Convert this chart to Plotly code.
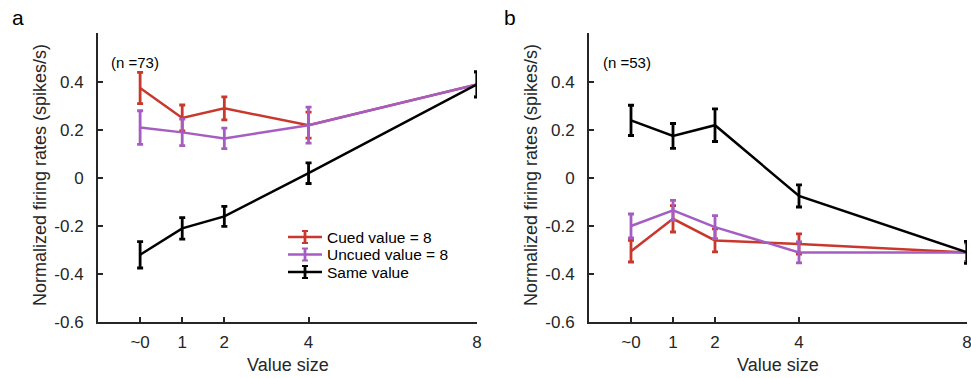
import plotly.graph_objects as go

x_vals = [0, 1, 2, 4, 8]
x_ticklabels = ["~0", "1", "2", "4", "8"]
y_tickvals = [-0.6, -0.4, -0.2, 0, 0.2, 0.4]
y_ticklabels = ["-0.6", "-0.4", "-0.2", "0", "0.2", "0.4"]

series_names = ["Cued value = 8", "Uncued value = 8", "Same value"]

# Panel a (n = 73)
a_cued = [0.375, 0.25, 0.29, 0.22, 0.39]
a_cued_err = [0.065, 0.054, 0.048, 0.054, 0.05]
a_uncued = [0.21, 0.19, 0.165, 0.22, 0.39]
a_uncued_err = [0.07, 0.055, 0.043, 0.075, 0.05]
a_same = [-0.32, -0.21, -0.16, 0.02, 0.39]
a_same_err = [0.055, 0.045, 0.042, 0.043, 0.053]

# Panel b (n = 53)
b_cued = [-0.305, -0.17, -0.26, -0.275, -0.31]
b_cued_err = [0.045, 0.055, 0.048, 0.042, 0.04]
b_uncued = [-0.2, -0.135, -0.205, -0.31, -0.31]
b_uncued_err = [0.05, 0.042, 0.048, 0.044, 0.04]
b_same = [0.24, 0.175, 0.22, -0.075, -0.31]
b_same_err = [0.063, 0.052, 0.068, 0.046, 0.046]

colors = ["#C8382D", "#A55DC2", "#000000"]
FONT = "Liberation Sans, Arial, sans-serif"
AX = "#262626"

W, H = 971, 378
fig = go.Figure()

panels = [
    ("x", "y", [a_cued, a_uncued, a_same], [a_cued_err, a_uncued_err, a_same_err]),
    ("x2", "y2", [b_cued, b_uncued, b_same], [b_cued_err, b_uncued_err, b_same_err]),
]
for xa, ya, ys, errs in panels:
    for name, y, e, c in zip(series_names, ys, errs, colors):
        fig.add_trace(go.Scatter(
            x=x_vals, y=y, name=name, mode="lines",
            line=dict(color=c, width=2.5),
            error_y=dict(type="data", array=e, visible=True, color=c, thickness=2.8, width=3),
            xaxis=xa, yaxis=ya, showlegend=False,
        ))

ydom = [1 - 322 / H, 1 - 33 / H]
xdom_a = [98 / W, 477 / W]
xdom_b = [589 / W, 967 / W]

xaxis_common = dict(
    range=[-1, 8], tickvals=x_vals, ticktext=x_ticklabels,
    showline=True, linecolor=AX, linewidth=2, ticks="inside", ticklen=5,
    tickwidth=1.5, tickcolor=AX, showgrid=False, zeroline=False,
    tickfont=dict(family=FONT, size=17, color=AX), ticklabelstandoff=4,
    ticklabeloverflow="allow",
)
yaxis_common = dict(
    range=[-0.6, 0.604], tickvals=y_tickvals, ticktext=y_ticklabels,
    showline=True, linecolor=AX, linewidth=2, ticks="inside", ticklen=5,
    tickwidth=1.5, tickcolor=AX, showgrid=False, zeroline=False,
    tickfont=dict(family=FONT, size=17, color=AX), ticklabelstandoff=9,
)

fig.update_layout(
    width=W, height=H,
    margin=dict(l=0, r=0, t=0, b=0, autoexpand=False),
    paper_bgcolor="white", plot_bgcolor="white",
    xaxis=dict(domain=xdom_a, anchor="y", **xaxis_common),
    yaxis=dict(domain=ydom, anchor="x", **yaxis_common),
    xaxis2=dict(domain=xdom_b, anchor="y2", **xaxis_common),
    yaxis2=dict(domain=ydom, anchor="x2", **yaxis_common),
    showlegend=False,
)

# Legend (drawn in panel a, in paper coordinates)
leg_rows = [237, 254.5, 272]
for name, c, ry in zip(series_names, colors, leg_rows):
    yy = 1 - ry / H
    fig.add_shape(type="line", xref="paper", yref="paper",
                  x0=288 / W, x1=322 / W, y0=yy, y1=yy, line=dict(color=c, width=2.5))
    fig.add_shape(type="line", xref="paper", yref="paper",
                  x0=305 / W, x1=305 / W, y0=yy - 6 / H, y1=yy + 6 / H, line=dict(color=c, width=2.8))
    for dy in (-6, 6):
        fig.add_shape(type="line", xref="paper", yref="paper",
                      x0=302 / W, x1=308 / W, y0=yy + dy / H, y1=yy + dy / H, line=dict(color=c, width=2))
    fig.add_annotation(xref="paper", yref="paper", x=325 / W, y=yy, xanchor="left", yanchor="middle",
                       text=name, showarrow=False, font=dict(family=FONT, size=15.5, color="#000"))

annotations = [
    dict(text="a", x=18 / W, y=1 - 17 / H, font=dict(size=21)),
    dict(text="b", x=510 / W, y=1 - 17 / H, font=dict(size=21)),
    dict(text="(n =73)", x=135 / W, y=1 - 63 / H, font=dict(size=15)),
    dict(text="(n =53)", x=627 / W, y=1 - 63 / H, font=dict(size=15)),
    dict(text="Value size", x=287.5 / W, y=1 - 365 / H, font=dict(size=18, color=AX)),
    dict(text="Value size", x=778 / W, y=1 - 365 / H, font=dict(size=18, color=AX)),
    dict(text="Normalized firing rates (spikes/s)", x=40 / W, y=1 - 175 / H,
         textangle=-90, font=dict(size=18, color=AX)),
    dict(text="Normalized firing rates (spikes/s)", x=531 / W, y=1 - 175 / H,
         textangle=-90, font=dict(size=18, color=AX)),
]
for a in annotations:
    f = a.pop("font")
    f.setdefault("color", "#000")
    f["family"] = FONT
    fig.add_annotation(xref="paper", yref="paper", xanchor="center", yanchor="middle",
                       showarrow=False, font=f, **a)

fig.write_html(
    "out.html",
    config={"displayModeBar": False},
    post_script=(
        "document.documentElement.style.margin='0';"
        "document.documentElement.style.overflow='hidden';"
        "document.body.style.margin='0';"
        "document.body.style.overflow='hidden';"
    ),
)
